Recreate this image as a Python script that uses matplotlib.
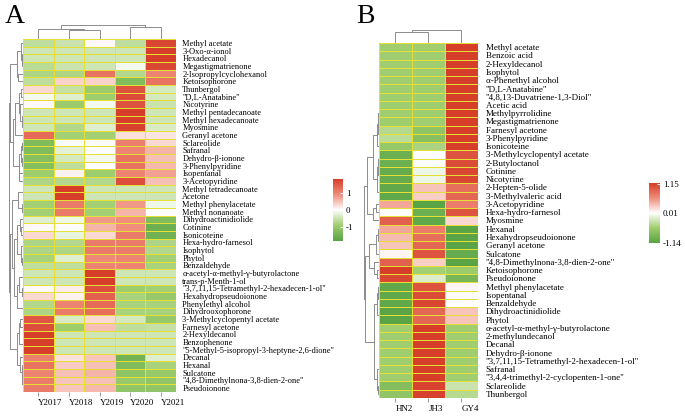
import numpy as np
import matplotlib
matplotlib.use('Agg')
import matplotlib.pyplot as plt
from matplotlib.colors import LinearSegmentedColormap

plt.rcParams['font.family'] = 'Liberation Serif'

# ---- data (row z-scores) ----
years = ['Y2017', 'Y2018', 'Y2019', 'Y2020', 'Y2021']
names_a = [
    'Methyl acetate', '3-Oxo-α-ionol', 'Hexadecanol', 'Megastigmatrienone',
    '2-Isopropylcyclohexanol', 'Ketoisophorone', 'Thunbergol', '"D,L-Anatabine"',
    'Nicotyrine', 'Methyl pentadecanoate', 'Methyl hexadecanoate', 'Myosmine',
    'Geranyl acetone', 'Sclareolide', 'Safranal', 'Dehydro-β-ionone',
    '3-Phenylpyridine', 'Isopentanal', '3-Acetopyridine', 'Methyl tetradecanoate',
    'Acetone', 'Methyl phenylacetate', 'Methyl nonanoate', 'Dihydroactinidiolide',
    'Cotinine', 'Isonicoteine', 'Hexa-hydro-farnesol', 'Isophytol', 'Phytol',
    'Benzaldehyde', 'α-acetyl-α-methyl-γ-butyrolactone', 'trans-p-Menth-1-ol',
    '"3,7,11,15-Tetramethyl-2-hexadecen-1-ol"', 'Hexahydropseudoionone',
    'Phenylethyl alcohol', 'Dihydrooxophorone', '3-Methylcyclopentyl acetate',
    'Farnesyl acetone', '2-Hexyldecanol', 'Benzophenone',
    '"5-Methyl-5-isopropyl-3-heptyne-2,6-dione"', 'Decanal', 'Hexanal',
    'Sulcatone', '"4,8-Dimethylnona-3,8-dien-2-one"', 'Pseudoionone']
za = [
    [-0.6, -0.5, 0.05, -0.6, 1.7],
    [-0.45, -0.45, -0.45, -0.45, 1.79],
    [-0.45, -0.45, -0.45, -0.45, 1.79],
    [-0.65, -0.5, -0.45, -0.1, 1.7],
    [-0.75, -0.75, 1.2, -0.7, 1.0],
    [-0.6, 0.35, 0.35, -1.3, 1.2],
    [0.3, -0.55, -0.95, 1.55, -0.4],
    [-0.1, -0.3, -0.9, 1.65, -0.4],
    [0.05, -0.95, -0.1, 1.55, -0.5],
    [-0.45, -0.45, -0.45, 1.79, -0.45],
    [-0.45, -0.45, -0.45, 1.79, -0.45],
    [-0.45, -0.7, -0.3, 1.75, -0.35],
    [1.3, -0.85, -0.85, 0.25, 0.2],
    [-1.3, -0.05, -0.05, 1.05, 0.3],
    [-1.3, -0.25, 0.0, 1.0, 0.6],
    [-1.2, -0.4, -0.1, 1.2, 0.5],
    [-1.2, -0.6, 0.0, 1.2, 0.55],
    [-0.9, 0.1, -0.9, 1.0, 0.75],
    [-0.75, -0.7, -0.7, 1.6, 0.5],
    [-0.45, 1.79, -0.45, -0.45, -0.45],
    [-0.45, 1.79, -0.45, -0.45, -0.45],
    [-0.85, 1.1, -0.85, 0.8, -0.15],
    [-0.85, 1.1, -0.85, 0.6, 0.0],
    [-0.3, -0.15, 0.8, 0.9, -1.3],
    [0.05, 0.0, 0.6, 0.9, -1.55],
    [0.3, -0.2, 0.3, 1.1, -1.5],
    [-0.75, -0.7, 1.1, 1.1, -0.75],
    [-0.75, -0.75, 1.1, 1.1, -0.7],
    [-0.8, -0.3, 0.95, 1.0, -0.85],
    [-0.6, -0.6, 1.0, 1.0, -0.8],
    [-0.45, -0.45, 1.79, -0.45, -0.45],
    [-0.45, -0.45, 1.79, -0.45, -0.45],
    [0.05, 0.15, 1.6, -0.9, -0.85],
    [0.3, 0.1, 1.4, -0.8, -1.0],
    [-0.7, 1.0, 1.3, -0.8, -0.8],
    [-0.75, 1.1, 1.25, -0.8, -0.8],
    [1.5, -0.35, 0.3, -0.4, -1.0],
    [1.6, -0.9, 0.5, -0.6, -0.55],
    [1.79, -0.45, -0.45, -0.45, -0.45],
    [1.79, -0.45, -0.45, -0.45, -0.45],
    [1.79, -0.45, -0.45, -0.45, -0.45],
    [1.05, 0.25, 0.45, -1.45, -0.3],
    [1.2, 0.4, 0.5, -1.3, -0.8],
    [1.0, 0.5, 0.6, -1.1, -1.0],
    [1.1, 0.45, 0.5, -1.0, -1.05],
    [1.1, 0.45, 0.55, -1.05, -1.05]]

sites = ['HN2', 'JH3', 'GY4']
names_b = [
    'Methyl acetate', 'Benzoic acid', '2-Hexyldecanol', 'Isophytol',
    'α-Phenethyl alcohol', '"D,L-Anatabine"', '"4,8,13-Duvatriene-1,3-Diol"',
    'Acetic acid', 'Methylpyrrolidine', 'Megastigmatrienone', 'Farnesyl acetone',
    '3-Phenylpyridine', 'Isonicoteine', '3-Methylcyclopentyl acetate',
    '2-Butyloctanol', 'Cotinine', 'Nicotyrine', '2-Hepten-5-olide',
    '3-Methylvaleric acid', '3-Acetopyridine', 'Hexa-hydro-farnesol', 'Myosmine',
    'Hexanal', 'Hexahydropseudoionone', 'Geranyl acetone', 'Sulcatone',
    '"4,8-Dimethylnona-3,8-dien-2-one"', 'Ketoisophorone', 'Pseudoionone',
    'Methyl phenylacetate', 'Isopentanal', 'Benzaldehyde', 'Dihydroactinidiolide',
    'Phytol', 'α-acetyl-α-methyl-γ-butyrolactone', '2-methylundecanol', 'Decanal',
    'Dehydro-β-ionone', '"3,7,11,15-Tetramethyl-2-hexadecen-1-ol"', 'Safranal',
    '"3,4,4-trimethyl-2-cyclopenten-1-one"', 'Sclareolide', 'Thunbergol']
zb = [
    [-0.577, -0.577, 1.155],
    [-0.577, -0.577, 1.155],
    [-0.577, -0.577, 1.155],
    [-0.577, -0.577, 1.155],
    [-0.577, -0.577, 1.155],
    [-0.577, -0.577, 1.155],
    [-0.577, -0.577, 1.155],
    [-0.577, -0.577, 1.155],
    [-0.577, -0.577, 1.155],
    [-0.58, -0.57, 1.15],
    [-0.45, -0.7, 1.15],
    [-0.4, -0.75, 1.15],
    [-0.65, -0.5, 1.15],
    [-1.0, 0.0, 1.0],
    [-1.0, -0.02, 1.05],
    [-1.05, -0.1, 1.1],
    [-1.05, -0.1, 1.1],
    [-1.1, 0.3, 0.8],
    [-1.1, 0.25, 0.85],
    [0.45, -1.15, 0.7],
    [0.0, -1.0, 1.0],
    [0.9, -1.1, 0.2],
    [0.45, 0.7, -1.15],
    [0.35, 0.8, -1.15],
    [0.3, 0.85, -1.15],
    [0.05, 1.0, -1.05],
    [0.9, 0.25, -1.15],
    [1.15, -0.55, -0.6],
    [1.1, -0.2, -0.9],
    [-1.1, 1.0, 0.05],
    [-1.1, 1.05, 0.02],
    [-1.1, 1.1, 0.0],
    [-1.15, 0.85, 0.3],
    [-1.15, 0.85, 0.3],
    [-0.577, 1.155, -0.577],
    [-0.577, 1.155, -0.577],
    [-0.577, 1.155, -0.577],
    [-0.577, 1.155, -0.577],
    [-0.577, 1.155, -0.577],
    [-0.577, 1.155, -0.577],
    [-0.577, 1.155, -0.577],
    [-0.8, 1.12, -0.32],
    [-0.7, 1.13, -0.43]]

W, H = 685, 417
cmap = LinearSegmentedColormap.from_list(
    'gwr', ['#5aa446', '#9fcd6e', '#ffffff', '#f08e7c', '#d73e2a'])
grid = '#e6df36'
tree_col = '#8c8c8c'


def box(x0, y0, x1, y1):
    return [x0 / W, 1 - y1 / H, (x1 - x0) / W, (y1 - y0) / H]


def ordered_tree(m):
    # complete linkage, but only neighbours merge so the drawn order is kept
    clusters = [([i], i + 0.5, 0.0) for i in range(len(m))]
    links = []
    while len(clusters) > 1:
        best = None
        for k in range(len(clusters) - 1):
            a, b = clusters[k][0], clusters[k + 1][0]
            d = max(np.linalg.norm(m[i] - m[j]) for i in a for j in b)
            if best is None or d < best[0]:
                best = (d, k)
        d, k = best
        (ia, pa, ha), (ib, pb, hb) = clusters[k], clusters[k + 1]
        h = max(d, ha, hb)
        links.append((pa, ha, pb, hb, h))
        clusters[k:k + 2] = [(ia + ib, (pa + pb) / 2, h)]
    return links


def draw_tree(ax, links, n, side):
    top = max(l[4] for l in links)
    for pa, ha, pb, hb, h in links:
        hs = [ha, h, h, hb]
        ps = [pa, pa, pb, pb]
        if side == 'left':
            ax.plot(hs, ps, color=tree_col, lw=0.7)
        else:
            ax.plot(ps, hs, color=tree_col, lw=0.7)
    if side == 'left':
        ax.set_xlim(top * 1.02, 0)
        ax.set_ylim(n, 0)
    else:
        ax.set_ylim(0, top * 1.02)
        ax.set_xlim(0, n)
    ax.axis('off')


def heat(ax, z, rows, cols, lim, rowsize, colsize, pad):
    ax.pcolormesh(z, cmap=cmap, vmin=-lim, vmax=lim, edgecolors=grid, linewidth=0.55)
    ax.set_xlim(0, z.shape[1])
    ax.set_ylim(z.shape[0], 0)
    ax.set_yticks(np.arange(len(rows)) + 0.5, rows)
    ax.yaxis.tick_right()
    ax.tick_params(axis='y', length=0, pad=pad, labelsize=rowsize)
    ax.set_xticks(np.arange(len(cols)) + 0.5, cols, ha='left')
    ax.tick_params(axis='x', length=3, width=0.6, color='#888888',
                   labelsize=colsize, pad=2)
    for s in ax.spines.values():
        s.set_visible(False)


def legend(ax, lim, ticks, labels):
    grad = np.linspace(-lim, lim, 200)[:, None]
    ax.imshow(grad, cmap=cmap, vmin=-lim, vmax=lim, aspect='auto',
              origin='lower', extent=[0, 1, -lim, lim])
    ax.set_xticks([])
    ax.set_yticks(ticks, labels)
    ax.yaxis.tick_right()
    ax.tick_params(axis='y', direction='in', length=2, color='white',
                   labelsize=6.5, pad=2)
    for s in ax.spines.values():
        s.set_visible(False)


za = np.array(za)
zb = np.array(zb)

fig = plt.figure(figsize=(W / 100, H / 100), dpi=100)

# panel A
ax_a = fig.add_axes(box(23, 39, 176, 392))
heat(ax_a, za, names_a, years, 1.79, 6.0, 6.5, 4.5)
draw_tree(fig.add_axes(box(9, 39, 23, 392)), ordered_tree(za), len(za), 'left')
draw_tree(fig.add_axes(box(23, 25, 176, 39)), ordered_tree(za.T), za.shape[1], 'top')
legend(fig.add_axes(box(333, 179, 343, 241)), 1.79, [1, 0, -1], ['1', '0', '-1'])
fig.text(5 / W, 1 - 23 / H, 'A', fontsize=20)

# panel B
ax_b = fig.add_axes(box(379, 43, 478, 398))
heat(ax_b, zb, names_b, sites, 1.155, 6.5, 6.5, 5.5)
draw_tree(fig.add_axes(box(364, 43, 379, 398)), ordered_tree(zb), len(zb), 'left')
draw_tree(fig.add_axes(box(379, 30, 478, 43)), ordered_tree(zb.T), zb.shape[1], 'top')
cb = fig.add_axes(box(649, 180, 660, 247))
legend(cb, 1.155, [1.15, 0.01, -1.14], ['1.15', '0.01', '-1.14'])
cb.set_ylim(-1.3, 1.3)
fig.text(356 / W, 1 - 23 / H, 'B', fontsize=20)

fig.savefig('out.png', dpi=100)
